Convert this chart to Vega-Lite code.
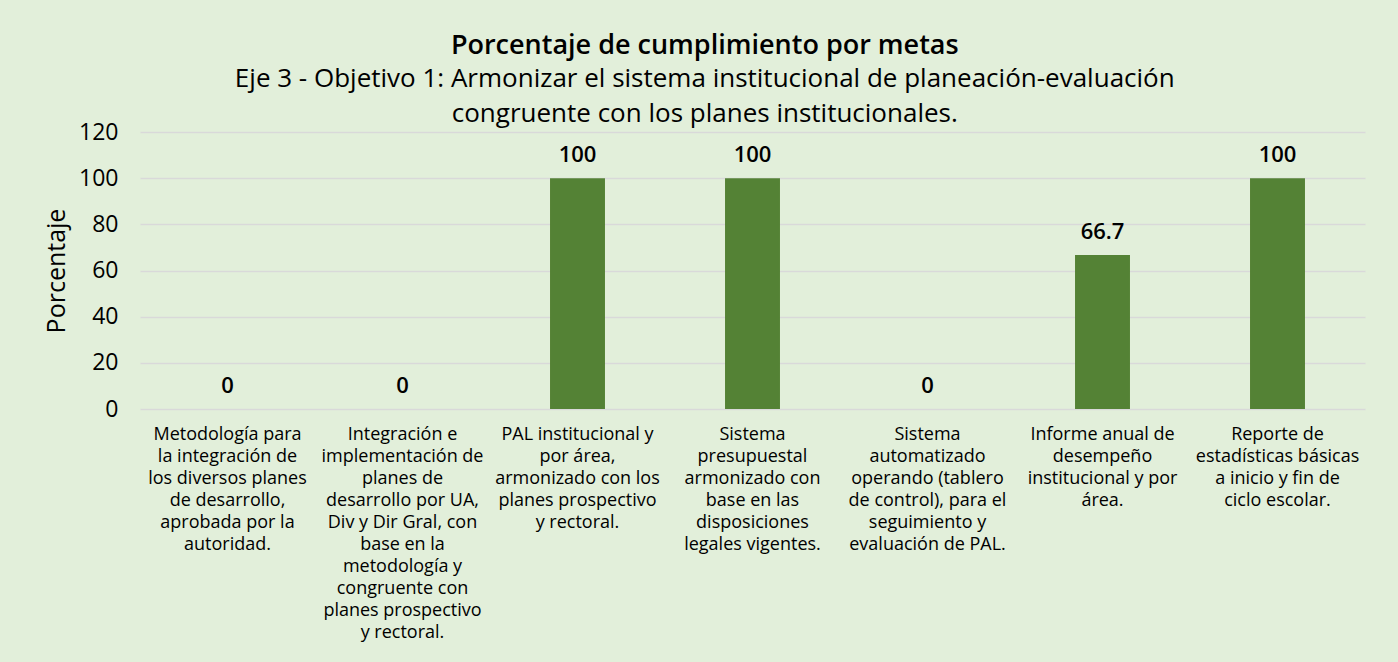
{
  "$schema": "https://vega.github.io/schema/vega-lite/v6.json",
  "autosize": {"type": "none"},
  "width": 1225,
  "height": 277,
  "padding": {"left": 140, "top": 132, "right": 33, "bottom": 253},
  "background": "#E2EFDA",
  "title": {
    "text": "Porcentaje de cumplimiento por metas",
    "subtitle": ["Eje 3 - Objetivo 1: Armonizar el sistema institucional de planeación-evaluación", "congruente con los planes institucionales."],
    "anchor": "middle",
    "frame": "bounds",
    "font": "Open Sans",
    "fontSize": 27,
    "fontWeight": 600,
    "color": "#000000",
    "subtitleFont": "Open Sans",
    "subtitleFontSize": 26,
    "subtitleColor": "#000000",
    "subtitleLineHeight": 35,
    "subtitlePadding": 6,
    "offset": -7
  },
  "data": {
    "values": [
      {"meta": "Metodología para\nla integración de\nlos diversos planes\nde desarrollo,\naprobada por la\nautoridad.", "porcentaje": 0, "orden": 1},
      {"meta": "Integración e\nimplementación de\nplanes de\ndesarrollo por UA,\nDiv y Dir Gral, con\nbase en la\nmetodología y\ncongruente con\nplanes prospectivo\ny rectoral.", "porcentaje": 0, "orden": 2},
      {"meta": "PAL institucional y\npor área,\narmonizado con los\nplanes prospectivo\ny rectoral.", "porcentaje": 100, "orden": 3},
      {"meta": "Sistema\npresupuestal\narmonizado con\nbase en las\ndisposiciones\nlegales vigentes.", "porcentaje": 100, "orden": 4},
      {"meta": "Sistema\nautomatizado\noperando (tablero\nde control), para el\nseguimiento y\nevaluación de PAL.", "porcentaje": 0, "orden": 5},
      {"meta": "Informe anual de\ndesempeño\ninstitucional y por\nárea.", "porcentaje": 66.7, "orden": 6},
      {"meta": "Reporte de\nestadísticas básicas\na inicio y fin de\nciclo escolar.", "porcentaje": 100, "orden": 7}
    ]
  },
  "encoding": {
    "x": {
      "field": "meta",
      "type": "nominal",
      "sort": {"field": "orden"},
      "scale": {"paddingInner": 0.686, "paddingOuter": 0.343},
      "axis": {
        "title": null,
        "labelAngle": 0,
        "labelExpr": "split(datum.value, '\\n')",
        "labelFont": "Open Sans",
        "labelFontSize": 18,
        "labelColor": "#000000",
        "labelLineHeight": 22,
        "labelBaseline": "top",
        "labelPadding": 16,
        "labelLimit": 0,
        "ticks": false,
        "tickSize": 0,
        "domain": false
      }
    },
    "y": {
      "field": "porcentaje",
      "type": "quantitative",
      "scale": {"domain": [0, 120]},
      "axis": {
        "title": "Porcentaje",
        "titleFont": "Open Sans",
        "titleFontSize": 25,
        "titleFontWeight": 500,
        "titleColor": "#000000",
        "titlePadding": 9,
        "values": [0, 20, 40, 60, 80, 100, 120],
        "labelFont": "Open Sans",
        "labelFontSize": 23,
        "labelColor": "#000000",
        "labelPadding": 22,
        "ticks": false,
        "tickSize": 0,
        "domain": false,
        "grid": true,
        "gridColor": "#D9D9D9",
        "gridWidth": 1.5
      }
    }
  },
  "layer": [
    {"mark": {"type": "bar", "color": "#548235"}},
    {
      "mark": {"type": "text", "baseline": "alphabetic", "dy": -16, "font": "Open Sans", "fontSize": 22, "fontWeight": 600, "color": "#000000"},
      "encoding": {"text": {"field": "porcentaje", "type": "quantitative", "format": "~r"}}
    }
  ],
  "config": {"view": {"stroke": null}}
}
